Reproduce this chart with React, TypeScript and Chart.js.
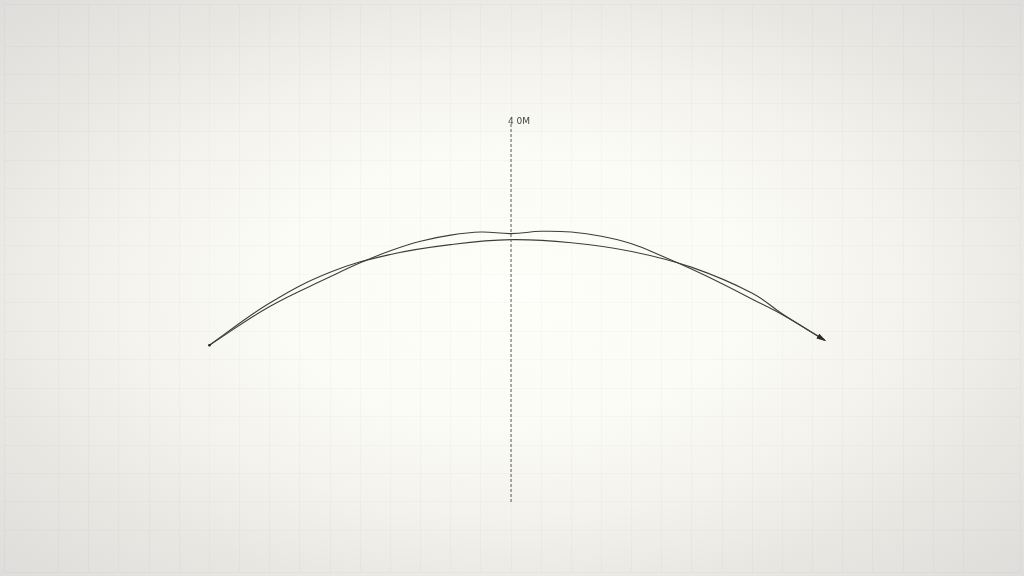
import React, { useEffect, useRef } from "react";
import { Chart, registerables } from "chart.js";

Chart.register(...registerables);

const arcX = [-10, -8, -6, -4, -2, 0, 2, 4, 6, 8, 9, 10.4];
const arcSeries = [4.13, 5.24, 6.05, 6.52, 6.78, 6.91, 6.83, 6.6, 6.18, 5.5, 4.95, 4.26];
const waveX = [-10, -8, -6, -5, -4, -3, -2, -1, 0, 1, 2, 3, 4, 5, 6, 7, 8, 9, 10.4];
const waveSeries = [4.13, 5.15, 5.93, 6.3, 6.62, 6.87, 7.03, 7.11, 7.07, 7.13, 7.11, 7.0, 6.8, 6.48, 6.13, 5.75, 5.34, 4.93, 4.26];
const markerX = [0, 0];
const markerY = [0, 10];
const markerLabel = "4 0M";

const X_MIN = -16.81;
const X_MAX = 16.875;
const Y_MIN = -1.844;
const Y_MAX = 13.117;

const LINE = "#3d3d3d";

const decorPlugin = {
  id: "decor",
  afterDatasetsDraw(chart: any) {
    const { ctx, scales } = chart;
    const xs = scales.x;
    const ys = scales.y;
    const n = waveX.length;
    const x1 = xs.getPixelForValue(waveX[n - 2]);
    const y1 = ys.getPixelForValue(waveSeries[n - 2]);
    const x2 = xs.getPixelForValue(waveX[n - 1]);
    const y2 = ys.getPixelForValue(waveSeries[n - 1]);
    const ang = Math.atan2(y2 - y1, x2 - x1);
    const len = 8;
    const half = 2.8;
    ctx.save();
    ctx.fillStyle = "#2a2a2a";
    ctx.beginPath();
    ctx.moveTo(x2 + Math.cos(ang) * 2, y2 + Math.sin(ang) * 2);
    ctx.lineTo(x2 - Math.cos(ang) * len - Math.sin(ang) * half, y2 - Math.sin(ang) * len + Math.cos(ang) * half);
    ctx.lineTo(x2 - Math.cos(ang) * len + Math.sin(ang) * half, y2 - Math.sin(ang) * len - Math.cos(ang) * half);
    ctx.closePath();
    ctx.fill();
    const lx = xs.getPixelForValue(markerX[1]);
    const ly = ys.getPixelForValue(markerY[1]);
    ctx.fillStyle = "#444";
    ctx.font = "9px 'DejaVu Sans', sans-serif";
    ctx.textAlign = "left";
    ctx.textBaseline = "middle";
    ctx.fillText(markerLabel, lx - 3, ly - 1);
    ctx.restore();
  },
};

export default function App() {
  const ref = useRef<HTMLCanvasElement | null>(null);

  useEffect(() => {
    if (!ref.current) return;
    const toPts = (xv: number[], yv: number[]) => xv.map((x, i) => ({ x, y: yv[i] }));
    const chart = new Chart(ref.current, {
      type: "line",
      data: {
        datasets: [
          {
            data: toPts(markerX, markerY),
            borderColor: "#555",
            borderWidth: 1,
            borderDash: [3, 2],
            pointRadius: 0,
            tension: 0,
          },
          {
            data: toPts(arcX, arcSeries),
            borderColor: LINE,
            borderWidth: 1.1,
            pointRadius: (c: any) => (c.dataIndex === 0 ? 1.3 : 0),
            pointBackgroundColor: "#222",
            pointBorderWidth: 0,
            tension: 0.4,
          },
          {
            data: toPts(waveX, waveSeries),
            borderColor: LINE,
            borderWidth: 1.1,
            pointRadius: 0,
            tension: 0.4,
          },
        ],
      },
      options: {
        animation: false,
        responsive: false,
        maintainAspectRatio: false,
        layout: { padding: 0 },
        plugins: {
          legend: { display: false },
          tooltip: { enabled: false },
          title: { display: false },
        },
        scales: {
          x: {
            type: "linear",
            min: X_MIN,
            max: X_MAX,
            ticks: { display: false, stepSize: 1 },
            grid: { color: "rgba(0,0,0,0.018)", drawTicks: false, lineWidth: 1 },
            border: { display: false },
            afterFit: (s: any) => {
              s.height = 0;
            },
          },
          y: {
            type: "linear",
            min: Y_MIN,
            max: Y_MAX,
            ticks: { display: false, stepSize: 0.75 },
            grid: { color: "rgba(0,0,0,0.018)", drawTicks: false, lineWidth: 1 },
            border: { display: false },
            afterFit: (s: any) => {
              s.width = 0;
            },
          },
        },
      },
      plugins: [decorPlugin],
    });
    return () => chart.destroy();
  }, []);

  return (
    <div
      style={{
        position: "fixed",
        left: 0,
        top: 0,
        width: 1024,
        height: 576,
        background:
          "radial-gradient(ellipse farthest-corner at 50% 50%, #fefefa 0%, #fcfcf6 32%, #f3f2ec 56%, #e8e7e2 76%, #dedddb 100%)",
      }}
    >
      <canvas ref={ref} width={1024} height={576} style={{ display: "block", width: 1024, height: 576 }} />
    </div>
  );
}
